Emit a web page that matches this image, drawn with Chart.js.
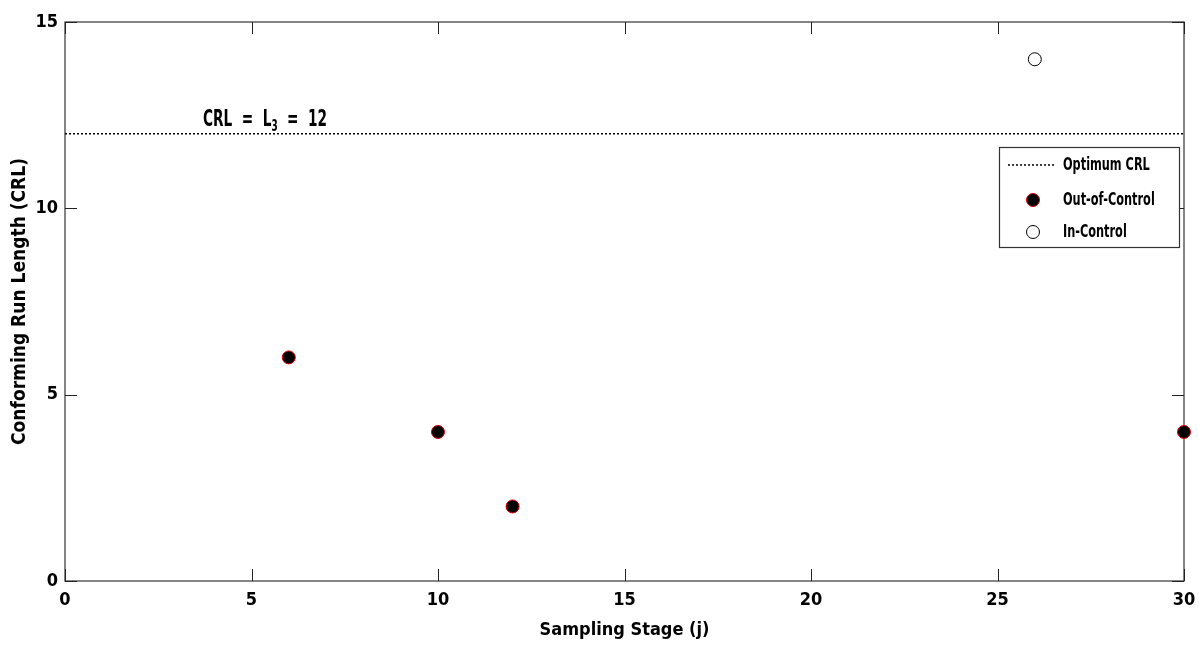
<!DOCTYPE html>
<html>
<head>
<meta charset="utf-8">
<script src="https://cdn.jsdelivr.net/npm/chart.js@4.4.1/dist/chart.umd.min.js"></script>
<style>
html,body{margin:0;padding:0;background:#fff;}
#wrap{width:1199px;height:645px;}
</style>
</head>
<body>
<div id="wrap"><canvas id="c" width="1199" height="645"></canvas></div>
<script>
const outControlX = [6, 10, 12, 30];
const outControlY = [6, 4, 2, 4];
const inControlX = [26];
const inControlY = [14];
const optimumCRL = 12;
const xTicks = [0, 5, 10, 15, 20, 25, 30];
const yTicks = [0, 5, 10, 15];
const legendLabels = ['Optimum CRL', 'Out-of-Control', 'In-Control'];

const FONT = "'DejaVu Sans Condensed', 'Liberation Sans Narrow', sans-serif";

function condText(ctx, text, x, y, sx) {
  ctx.save();
  ctx.translate(x, y);
  ctx.scale(sx, 1);
  ctx.fillText(text, 0, 0);
  ctx.restore();
  return ctx.measureText(text).width * sx;
}

const frame = {
  id: 'frame',
  beforeDatasetsDraw(chart) {
    const {ctx, chartArea: a, scales: {x, y}} = chart;
    ctx.save();
    ctx.strokeStyle = '#444';
    ctx.lineWidth = 1.3;
    ctx.strokeRect(a.left, a.top, a.right - a.left, a.bottom - a.top);
    ctx.strokeStyle = '#222';
    ctx.lineWidth = 1;
    const L = 12;
    xTicks.forEach(v => {
      const px = Math.round(x.getPixelForValue(v)) + 0.5;
      ctx.beginPath();
      ctx.moveTo(px, a.bottom); ctx.lineTo(px, a.bottom - L);
      ctx.moveTo(px, a.top); ctx.lineTo(px, a.top + L);
      ctx.stroke();
    });
    yTicks.forEach(v => {
      const py = Math.round(y.getPixelForValue(v)) + 0.5;
      ctx.beginPath();
      ctx.moveTo(a.left, py); ctx.lineTo(a.left + L, py);
      ctx.moveTo(a.right, py); ctx.lineTo(a.right - L, py);
      ctx.stroke();
    });
    ctx.restore();
  },
  afterDraw(chart) {
    const {ctx, scales: {x, y}} = chart;
    ctx.save();
    ctx.fillStyle = '#000';
    ctx.textBaseline = 'alphabetic';
    const sx = 0.66;
    let tx = x.getPixelForValue(3.7);
    const ty = y.getPixelForValue(optimumCRL) - 8;
    ctx.font = 'bold 23px ' + FONT;
    tx += condText(ctx, 'CRL  =  L', tx, ty, sx);
    ctx.font = 'bold 15px ' + FONT;
    tx += condText(ctx, '3', tx, ty + 5, sx);
    ctx.font = 'bold 23px ' + FONT;
    condText(ctx, '  =  12', tx, ty, sx);

    // legend
    const lx = 999, ly = 147, lw = 180, lh = 100;
    ctx.fillStyle = '#fff';
    ctx.fillRect(lx, ly, lw, lh);
    ctx.strokeStyle = '#333';
    ctx.lineWidth = 1.2;
    ctx.strokeRect(lx + 0.5, ly + 0.5, lw, lh);
    const rows = [ly + 18, ly + 53, ly + 85];
    ctx.strokeStyle = '#000';
    ctx.lineWidth = 1.5;
    ctx.setLineDash([2, 2]);
    ctx.beginPath();
    ctx.moveTo(lx + 9, rows[0]); ctx.lineTo(lx + 56, rows[0]);
    ctx.stroke();
    ctx.setLineDash([]);
    ctx.beginPath();
    ctx.arc(lx + 34, rows[1], 6.5, 0, Math.PI * 2);
    ctx.fillStyle = '#000'; ctx.fill();
    ctx.strokeStyle = '#e00000'; ctx.lineWidth = 1; ctx.stroke();
    ctx.beginPath();
    ctx.arc(lx + 34, rows[2], 6.5, 0, Math.PI * 2);
    ctx.fillStyle = '#fff'; ctx.fill();
    ctx.strokeStyle = '#000'; ctx.lineWidth = 1; ctx.stroke();
    ctx.fillStyle = '#000';
    ctx.font = 'bold 17px ' + FONT;
    ctx.textBaseline = 'middle';
    legendLabels.forEach((t, i) => condText(ctx, t, lx + 64, rows[i] + 1, 0.74));
    ctx.restore();
  }
};

new Chart(document.getElementById('c'), {
  type: 'scatter',
  data: {
    datasets: [
      {
        type: 'line',
        label: legendLabels[0],
        data: [{x: xTicks[0], y: optimumCRL}, {x: xTicks[xTicks.length - 1], y: optimumCRL}],
        borderColor: '#000',
        borderWidth: 1.5,
        borderDash: [2, 2],
        pointRadius: 0,
        fill: false
      },
      {
        label: legendLabels[1],
        data: outControlX.map((v, i) => ({x: v, y: outControlY[i]})),
        backgroundColor: '#000',
        borderColor: '#e00000',
        borderWidth: 1,
        pointRadius: 6.5,
        clip: false
      },
      {
        label: legendLabels[2],
        data: inControlX.map((v, i) => ({x: v, y: inControlY[i]})),
        backgroundColor: '#fff',
        borderColor: '#000',
        borderWidth: 1,
        pointRadius: 6.5,
        clip: false
      }
    ]
  },
  options: {
    responsive: false,
    animation: false,
    devicePixelRatio: 1,
    layout: {padding: {top: 22, right: 15, left: 0, bottom: 0}},
    plugins: {legend: {display: false}, tooltip: {enabled: false}},
    scales: {
      x: {
        type: 'linear',
        min: 0, max: 30,
        grid: {display: false, drawTicks: false},
        border: {display: false},
        afterBuildTicks(s) { s.ticks = xTicks.map(v => ({value: v})); },
        afterFit(s) { s.height = 64; s.paddingLeft = 0; s.paddingRight = 0; },
        ticks: {color: '#000', padding: 9, maxRotation: 0, font: {family: FONT, size: 18, weight: 'bold'}},
        title: {display: true, text: 'Sampling Stage (j)', color: '#000', padding: {top: 3}, font: {family: FONT, size: 18, weight: 'bold'}}
      },
      y: {
        type: 'linear',
        min: 0, max: 15,
        grid: {display: false, drawTicks: false},
        border: {display: false},
        afterBuildTicks(s) { s.ticks = yTicks.map(v => ({value: v})); },
        afterFit(s) { s.width = 65; s.paddingTop = 0; s.paddingBottom = 0; },
        ticks: {color: '#000', padding: 7, font: {family: FONT, size: 18, weight: 'bold'}},
        title: {display: true, text: 'Conforming Run Length (CRL)', color: '#000', padding: {bottom: 0, top: 9}, font: {family: FONT, size: 19, weight: 'bold'}}
      }
    }
  },
  plugins: [frame]
});
</script>
</body>
</html>
